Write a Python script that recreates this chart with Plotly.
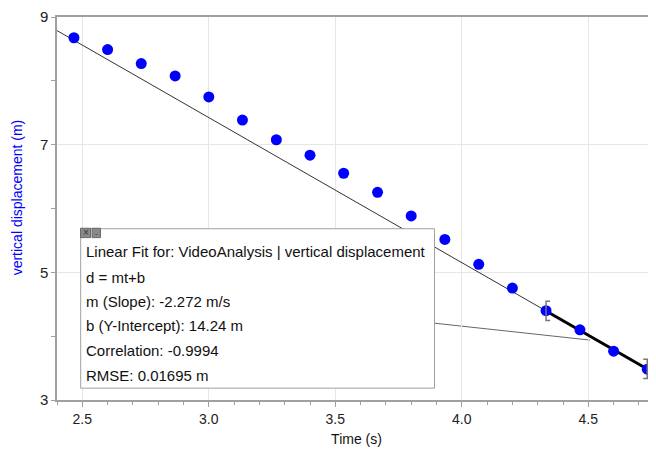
import plotly.graph_objects as go

# dados (tempo em s, deslocamento vertical em m)
time_s = [2.467, 2.600, 2.733, 2.867, 3.000, 3.133, 3.267, 3.400, 3.533,
          3.667, 3.800, 3.933, 4.067, 4.200, 4.333, 4.467, 4.600, 4.733]
vert_disp = [8.675, 8.49, 8.27, 8.077, 7.748, 7.386, 7.077, 6.836, 6.552,
             6.253, 5.883, 5.516, 5.125, 4.754, 4.399, 4.10, 3.765, 3.482]

# ajuste linear d = m*t + b
slope = -2.272
intercept = 14.24
fit_start = 4.333
fit_end = 4.733

fit_lines = [
    "Linear Fit for: VideoAnalysis | vertical displacement",
    "d = mt+b",
    "m (Slope): -2.272 m/s",
    "b (Y-Intercept): 14.24 m",
    "Correlation: -0.9994",
    "RMSE: 0.01695 m",
]

x_range = [2.4, 4.7676]
y_range = [3, 9]

# a página tem margem de 8px no body; compensa no tamanho e margens
OFF = 8
W, H = 656 - OFF, 451 - OFF
PLOT_L, PLOT_R, PLOT_T, PLOT_B = 57, 656, 12, 400   # área do gráfico na janela
ML, MR = PLOT_L - OFF, 0
MT, MB = PLOT_T - OFF, 451 - PLOT_B


def px(x):  # pixel x da janela -> paper
    return (x - PLOT_L) / (PLOT_R - PLOT_L)


def py(y):  # pixel y da janela -> paper
    return (PLOT_B - y) / (PLOT_B - PLOT_T)


def fit(t):
    return slope * t + intercept


FONT = "Liberation Sans, Arial, Helvetica, sans-serif"

fig = go.Figure()

# reta ajustada fina em todo o eixo
fig.add_trace(go.Scatter(
    x=x_range, y=[fit(t) for t in x_range], mode="lines",
    line=dict(color="#333333", width=1), hoverinfo="skip", showlegend=False))

# trecho do ajuste em destaque
fig.add_trace(go.Scatter(
    x=[fit_start, fit_end], y=[fit(fit_start), fit(fit_end)], mode="lines",
    line=dict(color="black", width=3), hoverinfo="skip", showlegend=False))

# pontos medidos
fig.add_trace(go.Scatter(
    x=time_s, y=vert_disp, mode="markers",
    marker=dict(color="#0000ff", size=11), showlegend=False))

shapes = []

# colchetes marcando o intervalo do ajuste
bh = 0.15   # meia altura em m
bw = 0.016  # largura da serifa em s
y0 = fit(fit_start)
shapes.append(dict(type="path", xref="x", yref="y",
                   path=f"M {fit_start + bw},{y0 + bh} L {fit_start},{y0 + bh} "
                        f"L {fit_start},{y0 - bh} L {fit_start + bw},{y0 - bh}",
                   line=dict(color="#777777", width=1.5)))
y1 = fit(fit_end)
shapes.append(dict(type="path", xref="x", yref="y",
                   path=f"M {fit_end - bw},{y1 + bh} L {fit_end},{y1 + bh} "
                        f"L {fit_end},{y1 - bh} L {fit_end - bw},{y1 - bh}",
                   line=dict(color="#777777", width=1.5)))

# linha ligando a caixa ao ajuste
shapes.append(dict(type="line", xref="paper", yref="paper",
                   x0=px(434.5), y0=py(322.2), x1=px(590), y1=py(339.3),
                   line=dict(color="#666666", width=1), layer="between"))

# caixa de resultados
shapes.append(dict(type="rect", xref="paper", yref="paper",
                   x0=px(80.7), y0=py(388), x1=px(434.5), y1=py(226.5),
                   fillcolor="white", line=dict(color="#a0a0a0", width=1),
                   layer="above"))
# botões da caixa
shapes.append(dict(type="rect", xref="paper", yref="paper",
                   x0=px(80.5), y0=py(235.5), x1=px(90.5), y1=py(226),
                   fillcolor="#8a8a8a", line=dict(color="#6a6a6a", width=1),
                   layer="above"))
shapes.append(dict(type="rect", xref="paper", yref="paper",
                   x0=px(92), y0=py(235.5), x1=px(100.5), y1=py(226),
                   fillcolor="#8a8a8a", line=dict(color="#6a6a6a", width=1),
                   layer="above"))

annotations = []
line_y = [250, 275.5, 300.5, 325, 350, 375]
for txt, yy in zip(fit_lines, line_y):
    annotations.append(dict(
        text=txt, xref="paper", yref="paper", x=px(84), y=py(yy),
        xanchor="left", yanchor="middle", showarrow=False,
        font=dict(family=FONT, size=15, color="#111111")))

annotations.append(dict(text="×", xref="paper", yref="paper",
                        x=px(85.5), y=py(230.8), showarrow=False,
                        xanchor="center", yanchor="middle",
                        font=dict(family=FONT, size=10, color="#333333")))
annotations.append(dict(text="-", xref="paper", yref="paper",
                        x=px(96.2), y=py(231.5), showarrow=False,
                        xanchor="center", yanchor="middle",
                        font=dict(family=FONT, size=8, color="#333333")))

# título do eixo y (azul)
annotations.append(dict(text="vertical displacement (m)", xref="paper",
                        yref="paper", x=px(16.7), y=py(195), textangle=-90,
                        showarrow=False, xanchor="center", yanchor="middle",
                        font=dict(family=FONT, size=14, color="#0000ff")))

fig.update_layout(
    width=W, height=H,
    margin=dict(l=ML, r=MR, t=MT, b=MB),
    paper_bgcolor="white", plot_bgcolor="white",
    font=dict(family=FONT, size=13.5, color="#222222"),
    shapes=shapes, annotations=annotations,
    xaxis=dict(
        range=x_range, tick0=2.5, dtick=0.5, tickformat=".1f",
        showgrid=True, gridcolor="#e6e6e6", gridwidth=1,
        showline=True, linecolor="#a0a0a0", linewidth=1.5, mirror=True,
        ticks="outside", ticklen=5, tickcolor="#a0a0a0",
        minor=dict(dtick=0.1, ticks="outside", ticklen=3, tickcolor="#a0a0a0",
                   showgrid=False),
        zeroline=False,
        tickfont=dict(size=14),
        title=dict(text="Time (s)", standoff=9,
                   font=dict(family=FONT, size=14, color="#111111")),
    ),
    yaxis=dict(
        range=y_range, tick0=3, dtick=2,
        showgrid=True, gridcolor="#e6e6e6", gridwidth=1,
        showline=True, linecolor="#a0a0a0", linewidth=1.5, mirror=False,
        ticks="outside", ticklen=4, tickcolor="#a0a0a0",
        minor=dict(dtick=1, ticks="outside", ticklen=4, tickcolor="#a0a0a0",
                   showgrid=False),
        zeroline=False,
        tickfont=dict(size=15),
        ticklabeloverflow="allow",
    ),
)

fig.write_html("out.html")
